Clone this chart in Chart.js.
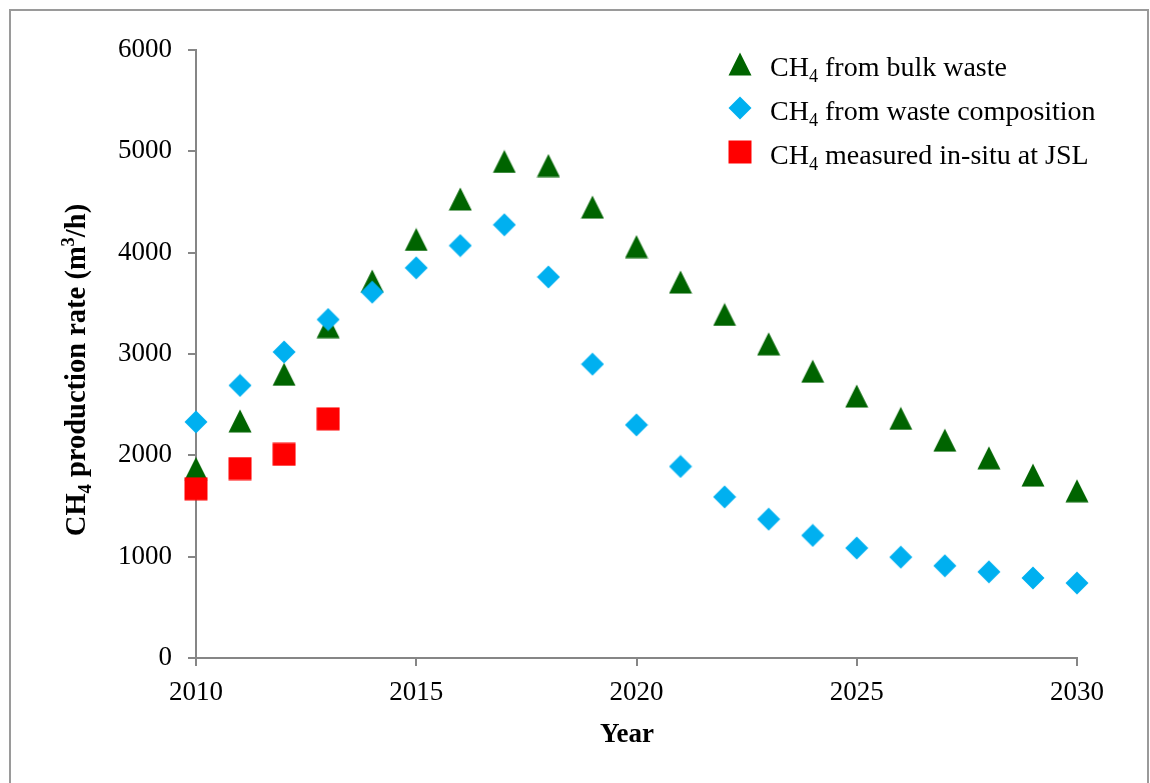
<!DOCTYPE html>
<html>
<head>
<meta charset="utf-8">
<title>CH4 production rate</title>
<script src="https://cdn.jsdelivr.net/npm/chart.js@4.4.1/dist/chart.umd.min.js"></script>
<style>
  html, body { margin: 0; padding: 0; background: #fff; }
  #wrap { position: relative; width: 1150px; height: 783px; overflow: hidden; }
  #frame {
    position: absolute; left: 9px; top: 9px; width: 1140px; height: 800px;
    border: 2px solid #9a9a9a; box-sizing: border-box;
  }
  #chart { position: absolute; left: 0; top: 0; }
</style>
</head>
<body>
<div id="wrap">
  <div id="frame"></div>
  <canvas id="chart" width="1150" height="783"></canvas>
</div>
<script>
// years on the x axis
const years = [2010, 2011, 2012, 2013, 2014, 2015, 2016, 2017, 2018, 2019, 2020,
               2021, 2022, 2023, 2024, 2025, 2026, 2027, 2028, 2029, 2030];

// CH4 production rate (m3/h)
const bulkWaste = [1870, 2340, 2800, 3270, 3720, 4130, 4530, 4900, 4860, 4450, 4060,
                   3710, 3390, 3100, 2830, 2585, 2365, 2150, 1975, 1805, 1650];
const wasteComposition = [2330, 2690, 3020, 3340, 3610, 3850, 4070, 4275, 3760, 2900, 2300,
                          1890, 1590, 1370, 1210, 1085, 995, 910, 850, 790, 740];
const measuredYears = [2010, 2011, 2012, 2013];
const measuredInSitu = [1670, 1870, 2010, 2360];

const xTicks = [2010, 2015, 2020, 2025, 2030];
const yTicks = [0, 1000, 2000, 3000, 4000, 5000, 6000];

const GREEN = "#006400";
const BLUE = "#00b0f0";
const RED = "#ff0000";
const AXIS = "#868686";
const SERIF = "'Liberation Serif', 'Times New Roman', serif";

// small bitmap markers, centred on the data point
function makeMarker(shape, color) {
  const c = document.createElement("canvas");
  c.width = 24; c.height = 24;
  const g = c.getContext("2d");
  g.fillStyle = color;
  g.beginPath();
  if (shape === "triangle") {
    g.moveTo(12, 0.5); g.lineTo(23.5, 23.5); g.lineTo(0.5, 23.5);
  } else if (shape === "diamond") {
    g.moveTo(12, 0.5); g.lineTo(23.5, 12); g.lineTo(12, 23.5); g.lineTo(0.5, 12);
  } else {
    g.rect(0.5, 0.5, 23, 23);
  }
  g.closePath();
  g.fill();
  return c;
}

const triMark = makeMarker("triangle", GREEN);
const diaMark = makeMarker("diamond", BLUE);
const sqMark = makeMarker("square", RED);

// text with sub/superscript pieces: [text, "", "sub" or "sup"]
function richWidth(ctx, parts, size, weight) {
  let w = 0;
  parts.forEach(([t, mode]) => {
    const s = mode ? size * 0.65 : size;
    ctx.font = `${weight} ${s}px ${SERIF}`;
    w += ctx.measureText(t).width;
  });
  return w;
}

function drawRich(ctx, parts, x, y, size, weight) {
  ctx.textBaseline = "alphabetic";
  ctx.textAlign = "left";
  parts.forEach(([t, mode]) => {
    const s = mode ? size * 0.65 : size;
    const dy = mode === "sub" ? size * 0.22 : mode === "sup" ? -size * 0.38 : 0;
    ctx.font = `${weight} ${s}px ${SERIF}`;
    ctx.fillText(t, x, y + dy);
    x += ctx.measureText(t).width;
  });
}

const legendItems = [
  { mark: triMark, parts: [["CH"], ["4", "sub"], [" from bulk waste"]] },
  { mark: diaMark, parts: [["CH"], ["4", "sub"], [" from waste composition"]] },
  { mark: sqMark, parts: [["CH"], ["4", "sub"], [" measured in-situ at JSL"]] },
];

const titlesAndLegend = {
  id: "titlesAndLegend",
  afterDraw(chart) {
    const ctx = chart.ctx;
    ctx.save();
    ctx.fillStyle = "#000";

    // legend
    legendItems.forEach((item, i) => {
      const cy = 64 + i * 44;
      ctx.drawImage(item.mark, 740 - 12, cy - 12);
      drawRich(ctx, item.parts, 770, cy + 12, 28, "normal");
    });

    // x axis title
    ctx.font = `bold 27px ${SERIF}`;
    ctx.textAlign = "center";
    ctx.textBaseline = "alphabetic";
    ctx.fillText("Year", 627, 742);

    // y axis title
    const yParts = [["CH"], ["4", "sub"], [" production rate (m"], ["3", "sup"], ["/h)"]];
    const w = richWidth(ctx, yParts, 28.5, "bold");
    ctx.translate(85, 370);
    ctx.rotate(-Math.PI / 2);
    drawRich(ctx, yParts, -w / 2, 0, 28.5, "bold");
    ctx.restore();
  }
};

new Chart(document.getElementById("chart"), {
  type: "scatter",
  data: {
    datasets: [
      {
        label: "CH4 from bulk waste",
        data: years.map((y, i) => ({ x: y, y: bulkWaste[i] })),
        pointStyle: triMark,
        order: 3,
      },
      {
        label: "CH4 from waste composition",
        data: years.map((y, i) => ({ x: y, y: wasteComposition[i] })),
        pointStyle: diaMark,
        order: 2,
      },
      {
        label: "CH4 measured in-situ at JSL",
        data: measuredYears.map((y, i) => ({ x: y, y: measuredInSitu[i] })),
        pointStyle: sqMark,
        order: 1,
      },
    ],
  },
  options: {
    responsive: false,
    animation: false,
    devicePixelRatio: 1,
    clip: false,
    layout: { padding: { left: 0, top: 50, right: 73, bottom: 0 } },
    plugins: {
      legend: { display: false },
      tooltip: { enabled: false },
    },
    scales: {
      x: {
        type: "linear",
        min: 2010,
        max: 2030,
        afterBuildTicks: (scale) => { scale.ticks = xTicks.map(v => ({ value: v })); },
        afterFit: (scale) => { scale.height = 125; },
        ticks: {
          callback: (v) => String(v),
          color: "#000",
          font: { family: SERIF, size: 27 },
          padding: 11,
          maxRotation: 0,
        },
        grid: { drawOnChartArea: false, tickLength: 8, color: AXIS, lineWidth: 2 },
        border: { color: AXIS, width: 2 },
      },
      y: {
        min: 0,
        max: 6000,
        afterBuildTicks: (scale) => { scale.ticks = yTicks.map(v => ({ value: v })); },
        afterFit: (scale) => { scale.width = 196; },
        ticks: {
          callback: (v) => String(v),
          color: "#000",
          font: { family: SERIF, size: 27 },
          padding: 16,
        },
        grid: { drawOnChartArea: false, tickLength: 8, color: AXIS, lineWidth: 2 },
        border: { color: AXIS, width: 2 },
      },
    },
  },
  plugins: [titlesAndLegend],
});
</script>
</body>
</html>
